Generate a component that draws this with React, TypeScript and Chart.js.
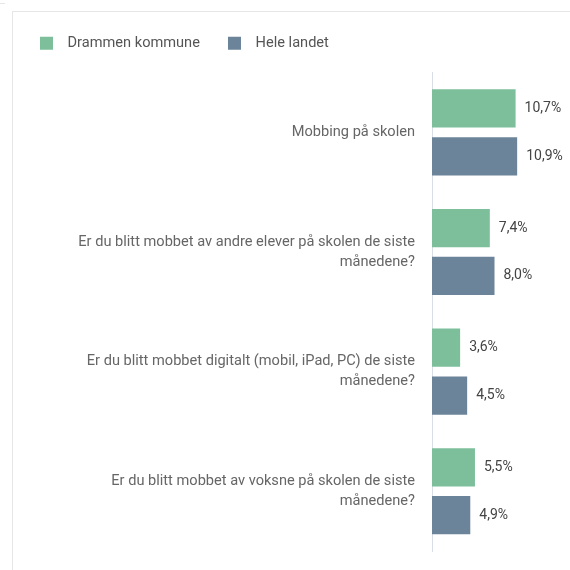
import React, { useEffect, useRef } from "react";
import { Chart, registerables } from "chart.js";

Chart.register(...registerables);

const categories: string[][] = [
  ["Mobbing på skolen"],
  ["Er du blitt mobbet av andre elever på skolen de siste", "månedene?"],
  ["Er du blitt mobbet digitalt (mobil, iPad, PC) de siste", "månedene?"],
  ["Er du blitt mobbet av voksne på skolen de siste", "månedene?"],
];
const drammen: number[] = [10.7, 7.4, 3.6, 5.5];
const heleLandet: number[] = [10.9, 8.0, 4.5, 4.9];
const seriesNames: string[] = ["Drammen kommune", "Hele landet"];

const FONT = "Roboto, 'Noto Sans', sans-serif";

const dataLabelPlugin = {
  id: "dataLabels",
  afterDatasetsDraw(chart: any) {
    const ctx = chart.ctx;
    ctx.save();
    ctx.font = `14px ${FONT}`;
    ctx.fillStyle = "#444";
    ctx.textBaseline = "middle";
    ctx.textAlign = "left";
    chart.data.datasets.forEach((ds: any, di: number) => {
      const meta = chart.getDatasetMeta(di);
      meta.data.forEach((bar: any, i: number) => {
        const v = ds.data[i] as number;
        ctx.fillText(v.toFixed(1).replace(".", ",") + "%", bar.x + 9, bar.y);
      });
    });
    ctx.restore();
  },
};

const legendSpacePlugin = {
  id: "legendSpace",
  beforeInit(chart: any) {
    const orig = chart.legend.fit;
    chart.legend.fit = function () {
      orig.bind(this)();
      this.height += 12;
    };
  },
};

export default function App() {
  const ref = useRef<HTMLCanvasElement>(null);
  useEffect(() => {
    if (!ref.current) return;
    const chart = new Chart(ref.current, {
      type: "bar",
      data: {
        labels: categories,
        datasets: [
          {
            label: "  " + seriesNames[0] + "     ",
            data: drammen,
            backgroundColor: "#7dbf9b",
            categoryPercentage: 0.8,
            barPercentage: 0.8,
          },
          {
            label: "  " + seriesNames[1],
            data: heleLandet,
            backgroundColor: "#6b8499",
            categoryPercentage: 0.8,
            barPercentage: 0.8,
          },
        ],
      },
      options: {
        indexAxis: "y",
        animation: false,
        responsive: false,
        layout: { padding: { left: 30, top: 26, right: 13, bottom: 19 } },
        plugins: {
          legend: {
            position: "top",
            align: "start",
            labels: {
              boxWidth: 13,
              boxHeight: 13,
              padding: 10,
              color: "#555",
              font: { family: FONT, size: 14.6 },
            },
          },
          tooltip: { enabled: false },
        },
        scales: {
          x: { display: false, min: 0, max: 16 },
          y: {
            afterFit(scale: any) {
              scale.width = 402;
              scale.paddingTop = 0;
              scale.paddingBottom = 0;
            },
            grid: { display: true, color: "rgba(0,0,0,0)", drawTicks: false },
            border: { display: true, color: "#d8dde8", width: 1 },
            ticks: {
              padding: 17,
              color: "#666",
              font: { family: FONT, size: 14.6, lineHeight: 1.37 },
            },
          },
        },
      },
      plugins: [dataLabelPlugin, legendSpacePlugin],
    });
    return () => chart.destroy();
  }, []);
  return (
    <div style={{ position: "fixed", left: 0, top: 0, width: 570, height: 570, background: "#fff" }}>
      <div style={{ position: "absolute", left: 0, top: 3, width: 5, height: 1, background: "#e6e6e6" }} />
      <div
        style={{
          position: "absolute",
          left: 12,
          top: 11,
          width: 600,
          height: 600,
          borderLeft: "1px solid #e6e6e6",
          borderTop: "1px solid #e6e6e6",
        }}
      />
      <canvas ref={ref} width={570} height={570} style={{ position: "absolute", left: 0, top: 0 }} />
    </div>
  );
}
